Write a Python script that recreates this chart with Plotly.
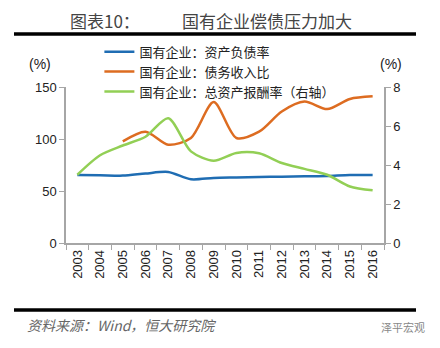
import plotly.graph_objects as go

years = [str(y) for y in range(2003, 2017)]
debt_asset = [65.4, 65.2, 64.8, 66.8, 68.3, 61.3, 62.6, 63.0, 63.4, 63.8, 64.2, 64.5, 65.4, 65.3]
debt_income_years = [str(y) for y in range(2005, 2017)]
debt_income = [97.7, 107.0, 94.5, 101.0, 135.5, 101.0, 107.0, 126.5, 136.0, 128.8, 138.5, 141.0]
roa = [3.5, 4.5, 5.0, 5.45, 6.4, 4.7, 4.22, 4.62, 4.6, 4.1, 3.8, 3.5, 2.9, 2.7]

names = ["国有企业：资产负债率", "国有企业：债务收入比", "国有企业：总资产报酬率（右轴）"]
colors = ["#1f6db3", "#dd6c21", "#92cf55"]

CJK = "Noto Sans CJK SC"
NUM = "Liberation Sans"

fig = go.Figure()
fig.add_trace(go.Scatter(x=years, y=debt_asset, name=names[0], mode="lines",
                         line=dict(color=colors[0], width=2.5, shape="spline", smoothing=0.8)))
fig.add_trace(go.Scatter(x=debt_income_years, y=debt_income, name=names[1], mode="lines",
                         line=dict(color=colors[1], width=2.5, shape="spline", smoothing=0.8)))
fig.add_trace(go.Scatter(x=years, y=roa, name=names[2], mode="lines", yaxis="y2",
                         line=dict(color=colors[2], width=2.5, shape="spline", smoothing=0.8)))

axis_col = "#a6a6a6"
fig.update_layout(
    width=440, height=348,
    margin=dict(l=66, r=56, t=87, b=105),
    paper_bgcolor="white", plot_bgcolor="white",
    font=dict(family=NUM, size=13, color="#222"),
    showlegend=True,
    legend=dict(x=0.105, y=1.322, xanchor="left", yanchor="top",
                font=dict(family=CJK, size=13, color="#222"),
                bgcolor="rgba(0,0,0,0)", tracegroupgap=0, itemwidth=30),
    xaxis=dict(type="category", categoryorder="array", categoryarray=years,
               range=[-0.5, 13.5], tickson="boundaries", ticks="outside", ticklen=5,
               tickcolor=axis_col, showline=True, linecolor=axis_col, linewidth=1.5,
               showgrid=False, tickangle=-90, tickfont=dict(family=NUM, size=13, color="#222"),
               zeroline=False),
    yaxis=dict(range=[0, 150], tickvals=[0, 50, 100, 150], ticks="outside", ticklen=5,
               tickcolor=axis_col, showline=True, linecolor=axis_col, linewidth=1.5,
               showgrid=False, zeroline=False, tickfont=dict(family=NUM, size=13, color="#222")),
    yaxis2=dict(range=[0, 8], tickvals=[0, 2, 4, 6, 8], overlaying="y", side="right",
                ticks="outside", ticklen=5, tickcolor=axis_col, showline=True,
                linecolor=axis_col, linewidth=1.5, showgrid=False, zeroline=False,
                tickfont=dict(family=NUM, size=13, color="#222")),
)

def px(x):
    return (x - 66) / 318

def py(y):
    return (243 - y) / 156

# title
fig.add_annotation(text="图表10：", x=px(105), y=py(21), xref="paper", yref="paper",
                   xanchor="center", yanchor="middle",
                   showarrow=False, font=dict(family=CJK, size=17, color="#444"))
fig.add_annotation(text="国有企业偿债压力加大", x=px(267), y=py(21), xref="paper",
                   yref="paper", xanchor="center", yanchor="middle",
                   showarrow=False, font=dict(family=CJK, size=17, color="#444"))
# bars
for yy in [34, 310]:
    fig.add_shape(type="line", xref="paper", yref="paper", x0=px(14), x1=px(416),
                  y0=py(yy), y1=py(yy), line=dict(color="black", width=3.5))
# unit labels
fig.add_annotation(text="(%)", x=px(40), y=py(64), xref="paper", yref="paper",
                   xanchor="center", yanchor="middle",
                   showarrow=False, font=dict(family=NUM, size=14, color="#222"))
fig.add_annotation(text="(%)", x=px(391), y=py(64), xref="paper", yref="paper",
                   xanchor="center", yanchor="middle",
                   showarrow=False, font=dict(family=NUM, size=14, color="#222"))
# footnote
fig.add_annotation(text="<i>资料来源：Wind，恒大研究院</i>", x=px(25), y=py(325),
                   xref="paper", yref="paper", xanchor="left", yanchor="middle", showarrow=False,
                   font=dict(family=CJK, size=14, color="#666"))
fig.add_annotation(text="泽平宏观", x=px(427), y=py(327),
                   xref="paper", yref="paper", xanchor="right", yanchor="middle", showarrow=False,
                   font=dict(family=CJK, size=11, color="#888"))

fig.write_html("out.html")
